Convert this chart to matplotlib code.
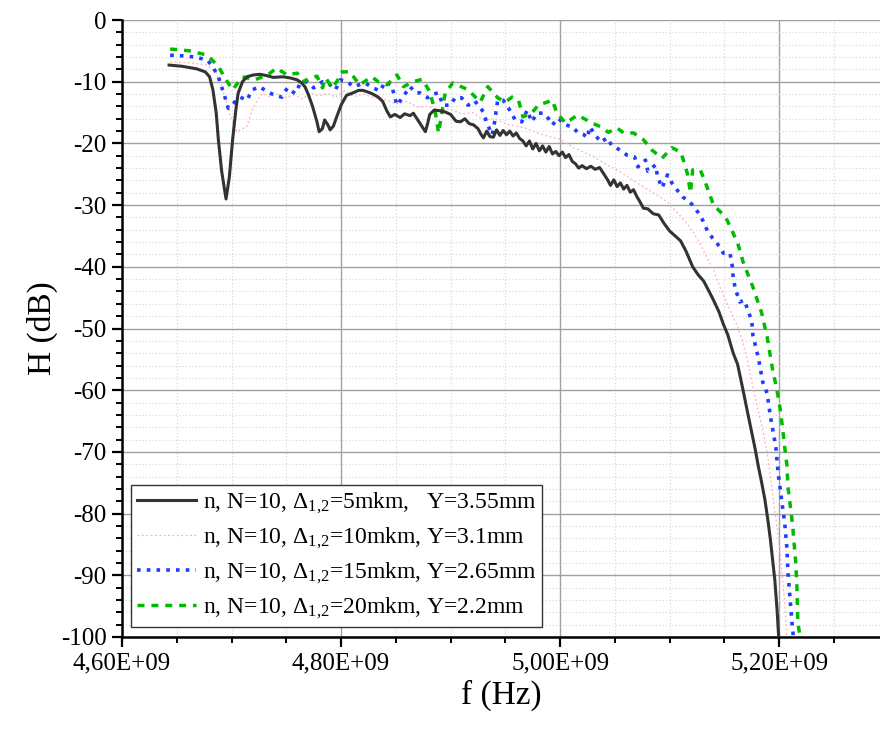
import numpy as np
import matplotlib
matplotlib.use("Agg")
import matplotlib.pyplot as plt
from matplotlib.ticker import MultipleLocator, FixedLocator, FixedFormatter

plt.rcParams['font.family'] = ['Liberation Serif', 'DejaVu Serif']
plt.rcParams['mathtext.fontset'] = 'custom'
plt.rcParams['mathtext.rm'] = 'Liberation Serif'
plt.rcParams['mathtext.default'] = 'regular'
plt.rcParams['axes.unicode_minus'] = False

# ------------ data (f in GHz, H in dB) ---------------
black_f = [4.643, 4.655, 4.668, 4.676, 4.680, 4.683, 4.686, 4.688, 4.691, 4.695,
           4.698, 4.701, 4.704, 4.706, 4.710, 4.714, 4.720, 4.726, 4.732, 4.738,
           4.747, 4.754, 4.760, 4.764, 4.767, 4.770, 4.774, 4.778, 4.780, 4.783,
           4.785, 4.788, 4.790, 4.793, 4.796, 4.800, 4.805, 4.811, 4.816, 4.820,
           4.825, 4.829, 4.834, 4.838, 4.842, 4.845, 4.849, 4.854, 4.858, 4.863,
           4.866, 4.870, 4.874, 4.877, 4.879, 4.881, 4.885, 4.890, 4.895, 4.900,
           4.905, 4.909, 4.913, 4.917, 4.921, 4.925, 4.928, 4.930, 4.933, 4.936,
           4.939, 4.942, 4.945, 4.948, 4.951, 4.954, 4.957, 4.960, 4.963, 4.966,
           4.969, 4.972, 4.975, 4.978, 4.981, 4.984, 4.987, 4.990, 4.993, 4.996,
           4.999, 5.002, 5.005, 5.008, 5.011, 5.014, 5.017, 5.020, 5.024, 5.028,
           5.032, 5.036, 5.040, 5.043, 5.046, 5.049, 5.052, 5.055, 5.058, 5.061,
           5.064, 5.067, 5.070, 5.073, 5.076, 5.080, 5.085, 5.090, 5.095, 5.100,
           5.105, 5.110, 5.115, 5.121, 5.126, 5.131, 5.136, 5.140, 5.145, 5.149,
           5.153, 5.158, 5.162, 5.167, 5.171, 5.175, 5.178, 5.181, 5.184, 5.187,
           5.190, 5.192, 5.194, 5.196, 5.198, 5.1995]
black_h = [-7.3, -7.5, -7.9, -8.4, -9.2, -11.3, -15.0, -19.4, -24.5, -29.0,
           -25.5, -19.4, -14.5, -11.9, -10.0, -9.2, -8.9, -8.8, -9.0, -9.3,
           -9.2, -9.4, -9.7, -10.2, -10.8, -12.0, -14.0, -16.5, -18.1, -17.6,
           -16.2, -17.0, -17.8, -17.2, -15.7, -13.8, -12.2, -11.8, -11.4, -11.4,
           -11.7, -12.0, -12.5, -13.2, -14.8, -15.7, -15.3, -15.8, -15.2, -15.5,
           -15.1, -16.2, -17.3, -18.1, -16.8, -15.3, -14.6, -14.7, -14.9, -15.3,
           -16.4, -16.5, -16.0, -16.8, -17.0, -17.6, -18.6, -19.1, -18.0, -18.9,
           -19.0, -17.8, -18.7, -17.9, -18.6, -18.0, -18.8, -18.3, -19.2, -19.6,
           -20.4, -19.6, -20.9, -20.0, -21.2, -20.4, -21.4, -20.5, -21.7, -21.3,
           -22.0, -21.4, -22.3, -21.8, -22.9, -23.3, -24.0, -23.6, -24.1, -23.7,
           -24.2, -23.9, -25.0, -25.8, -26.8, -25.9, -27.0, -26.4, -27.4, -26.8,
           -27.9, -27.5, -28.6, -29.5, -30.5, -30.6, -31.4, -31.6, -33.0, -34.2,
           -35.0, -35.8, -37.5, -40.0, -41.3, -42.3, -44.0, -45.4, -47.3, -49.3,
           -51.0, -54.0, -55.8, -60.0, -63.5, -66.9, -69.5, -72.4, -75.0, -77.8,
           -81.5, -84.3, -87.5, -90.8, -95.5, -100.0]

pink_f = [4.644, 4.660, 4.678, 4.686, 4.690, 4.695, 4.699, 4.705, 4.710, 4.714,
          4.718, 4.722, 4.728, 4.735, 4.742, 4.750, 4.757, 4.765, 4.772, 4.780,
          4.788, 4.795, 4.803, 4.812, 4.820, 4.830, 4.840, 4.850, 4.860, 4.870,
          4.880, 4.890, 4.900, 4.910, 4.920, 4.930, 4.940, 4.950, 4.960, 4.970,
          4.980, 4.990, 5.000, 5.012, 5.020, 5.030, 5.043, 5.055, 5.065, 5.073,
          5.085, 5.098, 5.110, 5.119, 5.127, 5.134, 5.140, 5.146, 5.152, 5.158,
          5.162, 5.167, 5.171, 5.176, 5.180, 5.185, 5.189, 5.192, 5.195, 5.198,
          5.201, 5.203, 5.205, 5.207]
pink_h = [-6.8, -6.9, -7.3, -8.5, -10.2, -13.0, -15.7, -18.1, -17.6, -17.3,
          -15.0, -13.5, -11.9, -12.4, -12.0, -12.6, -12.2, -12.8, -11.8, -12.3,
          -11.9, -12.5, -11.5, -12.4, -12.0, -12.6, -12.9, -13.6, -13.2, -14.1,
          -14.0, -14.6, -14.4, -15.2, -15.0, -16.2, -16.0, -16.8, -17.2, -17.6,
          -18.4, -18.9, -19.3, -20.7, -21.3, -22.1, -23.5, -24.6, -25.8, -26.7,
          -28.0, -29.5, -31.8, -33.7, -36.0, -38.5, -40.5, -43.3, -45.8, -48.2,
          -49.7, -52.3, -55.1, -59.5, -62.7, -66.5, -70.2, -74.0, -78.3, -82.2,
          -86.4, -90.5, -94.5, -100.0]

blue_f = [4.644, 4.655, 4.667, 4.678, 4.683, 4.688, 4.694, 4.697, 4.703, 4.708,
          4.714, 4.719, 4.726, 4.733, 4.740, 4.746, 4.751, 4.758, 4.763, 4.769,
          4.775, 4.783, 4.788, 4.795, 4.799, 4.806, 4.811, 4.822, 4.829, 4.836,
          4.840, 4.846, 4.851, 4.856, 4.863, 4.868, 4.872, 4.879, 4.884, 4.889,
          4.893, 4.900, 4.904, 4.910, 4.916, 4.922, 4.930, 4.933, 4.938, 4.940,
          4.943, 4.948, 4.954, 4.959, 4.965, 4.970, 4.974, 4.979, 4.985, 4.989,
          4.993, 4.998, 5.005, 5.011, 5.016, 5.021, 5.025, 5.027, 5.032, 5.037,
          5.043, 5.047, 5.055, 5.061, 5.068, 5.071, 5.078, 5.080, 5.087, 5.089,
          5.093, 5.098, 5.102, 5.107, 5.112, 5.117, 5.121, 5.126, 5.130, 5.135,
          5.139, 5.143, 5.149, 5.155, 5.157, 5.158, 5.160, 5.164, 5.168, 5.172,
          5.175, 5.176, 5.181, 5.185, 5.189, 5.192, 5.195, 5.197, 5.199, 5.202,
          5.205, 5.207, 5.208, 5.210, 5.212, 5.213]
blue_h = [-5.7, -5.8, -6.0, -6.5, -7.6, -9.2, -12.5, -14.3, -13.3, -12.5,
          -13.0, -11.3, -10.8, -11.7, -12.2, -12.5, -11.0, -11.9, -10.2, -10.0,
          -11.0, -10.0, -10.2, -11.3, -9.7, -10.0, -10.8, -10.2, -11.0, -11.5,
          -10.0, -10.5, -13.8, -12.6, -10.8, -11.8, -11.8, -12.6, -12.0, -11.8,
          -13.8, -13.8, -12.6, -12.6, -13.8, -13.1, -14.9, -16.7, -18.6, -16.7,
          -13.0, -13.0, -14.6, -16.2, -16.5, -14.6, -16.5, -15.1, -15.1, -15.9,
          -17.0, -15.9, -17.0, -17.3, -18.2, -18.5, -19.1, -17.3, -18.6, -19.8,
          -19.1, -20.3, -21.1, -21.9, -22.2, -23.8, -22.7, -24.5, -23.5, -25.4,
          -27.2, -25.1, -26.4, -27.6, -28.7, -29.3, -30.0, -31.2, -32.4, -34.4,
          -35.3, -36.1, -37.8, -37.8, -39.7, -41.8, -43.6, -45.7, -45.4, -47.3,
          -48.9, -51.1, -54.8, -58.7, -60.5, -64.3, -67.3, -69.4, -73.4, -77.5,
          -81.5, -85.6, -89.6, -94.0, -98.4, -100.0]

green_f = [4.644, 4.662, 4.678, 4.688, 4.694, 4.701, 4.710, 4.721, 4.733, 4.741,
           4.751, 4.760, 4.765, 4.772, 4.778, 4.783, 4.786, 4.792, 4.796, 4.801,
           4.808, 4.817, 4.828, 4.834, 4.842, 4.851, 4.857, 4.866, 4.874, 4.881,
           4.886, 4.889, 4.893, 4.895, 4.902, 4.916, 4.927, 4.934, 4.943, 4.950,
           4.956, 4.962, 4.966, 4.974, 4.980, 4.993, 4.997, 5.005, 5.016, 5.029,
           5.037, 5.044, 5.052, 5.058, 5.067, 5.076, 5.084, 5.093, 5.102, 5.110,
           5.112, 5.116, 5.119, 5.121, 5.128, 5.134, 5.140, 5.151, 5.162, 5.167,
           5.176, 5.184, 5.189, 5.194, 5.198, 5.201, 5.203, 5.205, 5.207, 5.208,
           5.212, 5.215, 5.216, 5.217, 5.219]
green_h = [-4.7, -5.0, -5.7, -7.5, -9.4, -11.3, -9.2, -9.7, -8.9, -7.8,
           -8.9, -8.6, -10.0, -9.4, -9.1, -11.0, -9.4, -11.0, -10.0, -8.4,
           -8.4, -10.5, -9.2, -10.0, -10.5, -8.9, -10.8, -10.0, -9.6, -11.6,
           -14.9, -18.3, -14.0, -11.9, -10.2, -11.3, -13.3, -10.8, -12.6, -13.3,
           -12.5, -13.0, -15.7, -15.1, -13.8, -13.0, -15.1, -16.7, -15.4, -16.7,
           -17.3, -18.2, -17.5, -18.3, -18.3, -19.4, -21.1, -22.4, -20.7, -21.4,
           -22.4, -24.8, -28.0, -24.3, -24.3, -27.0, -30.0, -31.9, -36.1, -39.2,
           -43.3, -47.5, -51.4, -56.7, -60.0, -63.2, -66.1, -69.2, -72.1, -75.7,
           -81.5, -87.8, -91.2, -97.6, -100.0]

labels = [r'n, N=10, Δ$_{1{,}2}$=5mkm,   Y=3.55mm',
          r'n, N=10, Δ$_{1{,}2}$=10mkm, Y=3.1mm',
          r'n, N=10, Δ$_{1{,}2}$=15mkm, Y=2.65mm',
          r'n, N=10, Δ$_{1{,}2}$=20mkm, Y=2.2mm']

xticks = [4.6e9, 4.8e9, 5.0e9, 5.2e9]
xticklabels = ['4,60E+09', '4,80E+09', '5,00E+09', '5,20E+09']

# ------------ plot ---------------
fig = plt.figure(figsize=(8.8, 7.31), dpi=100)
ax = fig.add_axes([0.1386, 0.1286, 0.8614, 0.844])

G = 1e9
ax.plot(np.array(black_f) * G, black_h, color='#333333', lw=2.2,
        solid_joinstyle='round', label=labels[0], zorder=5)
ax.plot(np.array(pink_f) * G, pink_h, color='#ffb0b0', lw=0.9,
        linestyle=(0, (1.5, 2.0)), label=labels[1], zorder=3)
ax.plot(np.array(blue_f) * G, blue_h, color='#1f3cff', lw=2.6,
        linestyle=(0, (1.0, 1.7)), label=labels[2], zorder=4)
ax.plot(np.array(green_f) * G, green_h, color='#00bb00', lw=2.5,
        linestyle=(0, (2.0, 2.0)), label=labels[3], zorder=4)

ax.set_xlim(4.6e9, 5.292e9)
ax.set_ylim(-100, 0)

ax.xaxis.set_major_locator(FixedLocator(xticks))
ax.xaxis.set_major_formatter(FixedFormatter(xticklabels))
ax.xaxis.set_minor_locator(MultipleLocator(0.05e9))
ax.yaxis.set_major_locator(MultipleLocator(10))
ax.yaxis.set_minor_locator(MultipleLocator(2))

ax.grid(which='major', color='#a0a0a0', lw=1.0, ls='-')
ax.grid(which='minor', color='#d4d4d4', lw=0.8, ls=(0, (1, 2)))
ax.set_axisbelow(True)

for s in ['top', 'right']:
    ax.spines[s].set_visible(False)
for s in ['left', 'bottom']:
    ax.spines[s].set_linewidth(1.8)
    ax.spines[s].set_color('black')

ax.tick_params(which='major', direction='out', length=7, width=1.6,
               labelsize=18, pad=4)
ax.tick_params(which='minor', direction='out', length=4, width=1.4)

ax.set_xlabel('f (Hz)', fontsize=24, labelpad=4)
ax.set_ylabel('H (dB)', fontsize=24, labelpad=2)

leg = ax.legend(loc='lower left', bbox_to_anchor=(0.012, 0.016),
                borderaxespad=0, fontsize=17, frameon=True, fancybox=False,
                edgecolor='#333333', framealpha=1, handlelength=2.5,
                handletextpad=0.3, labelspacing=0.42, borderpad=0.25)
leg.get_frame().set_linewidth(1.0)

fig.savefig('out.png', dpi=100)
